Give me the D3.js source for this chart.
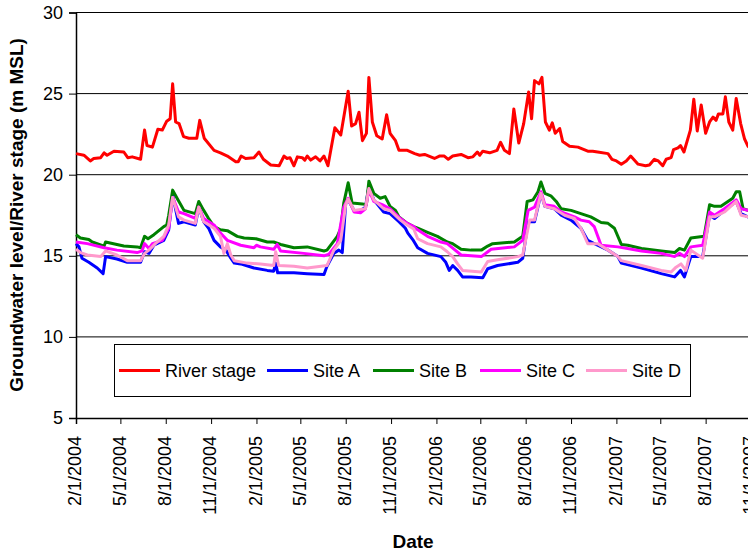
<!DOCTYPE html>
<html>
<head>
<meta charset="utf-8">
<script src="https://cdn.jsdelivr.net/npm/d3@7"></script>
<style>
  body { margin: 0; background: #fff; }
  svg { display: block; font-family: "Liberation Sans", Arial, Helvetica, sans-serif; }
</style>
</head>
<body>
<div id="container"></div>
<script>
// [date, m MSL]
const riverStage = [
  ["2004-02-01", 21.3], ["2004-02-17", 21.2], ["2004-03-01", 20.85], ["2004-03-08", 21.0],
  ["2004-03-22", 21.05], ["2004-03-29", 21.35], ["2004-04-04", 21.2], ["2004-04-18", 21.45],
  ["2004-05-08", 21.4], ["2004-05-16", 21.05], ["2004-05-25", 21.1], ["2004-06-11", 20.95],
  ["2004-06-19", 22.75], ["2004-06-24", 21.8], ["2004-07-05", 21.7], ["2004-07-16", 22.8],
  ["2004-07-25", 22.75], ["2004-08-03", 23.3], ["2004-08-10", 23.45], ["2004-08-15", 25.6],
  ["2004-08-21", 23.25], ["2004-08-28", 23.15], ["2004-09-06", 22.35], ["2004-09-17", 22.25],
  ["2004-10-03", 22.25], ["2004-10-09", 23.35], ["2004-10-18", 22.25], ["2004-11-07", 21.5],
  ["2004-11-20", 21.35], ["2004-12-04", 21.15], ["2004-12-21", 20.8], ["2004-12-26", 20.8],
  ["2005-01-01", 21.15], ["2005-01-10", 21.0], ["2005-01-27", 21.05], ["2005-02-06", 21.4],
  ["2005-02-15", 20.95], ["2005-03-02", 20.6], ["2005-03-19", 20.55], ["2005-03-29", 21.15],
  ["2005-04-04", 21.0], ["2005-04-10", 21.05], ["2005-04-18", 20.55], ["2005-04-25", 21.1],
  ["2005-05-05", 21.05], ["2005-05-10", 20.9], ["2005-05-15", 21.15], ["2005-05-22", 20.9],
  ["2005-06-01", 21.1], ["2005-06-10", 20.85], ["2005-06-18", 21.15], ["2005-06-26", 20.55],
  ["2005-07-10", 22.9], ["2005-07-22", 22.45], ["2005-08-06", 25.15], ["2005-08-13", 23.0],
  ["2005-08-21", 23.15], ["2005-08-28", 23.85], ["2005-09-04", 22.1], ["2005-09-12", 22.55],
  ["2005-09-17", 26.0], ["2005-09-24", 23.25], ["2005-10-03", 22.4], ["2005-10-14", 22.2],
  ["2005-10-23", 23.7], ["2005-10-30", 22.55], ["2005-11-10", 22.1], ["2005-11-17", 21.5],
  ["2005-12-04", 21.5], ["2005-12-19", 21.3], ["2005-12-29", 21.2], ["2006-01-08", 21.25],
  ["2006-01-28", 21.0], ["2006-02-07", 21.15], ["2006-02-17", 21.15], ["2006-02-25", 20.95],
  ["2006-03-06", 21.15], ["2006-03-23", 21.25], ["2006-04-06", 21.05], ["2006-04-16", 21.1],
  ["2006-04-25", 21.4], ["2006-04-30", 21.2], ["2006-05-06", 21.45], ["2006-05-20", 21.35],
  ["2006-06-04", 21.5], ["2006-06-11", 22.0], ["2006-06-19", 21.5], ["2006-06-29", 21.3],
  ["2006-07-08", 24.05], ["2006-07-18", 21.95], ["2006-07-28", 23.15], ["2006-08-07", 25.1],
  ["2006-08-13", 23.45], ["2006-08-19", 25.8], ["2006-08-28", 25.6], ["2006-09-03", 26.0],
  ["2006-09-10", 23.25], ["2006-09-18", 22.75], ["2006-09-24", 23.2], ["2006-09-30", 22.55],
  ["2006-10-09", 22.85], ["2006-10-15", 22.05], ["2006-10-29", 21.75], ["2006-11-15", 21.7],
  ["2006-12-05", 21.45], ["2006-12-15", 21.45], ["2006-12-25", 21.4], ["2007-01-15", 21.3],
  ["2007-01-23", 20.95], ["2007-02-01", 20.85], ["2007-02-11", 20.65], ["2007-02-21", 20.85],
  ["2007-03-02", 21.15], ["2007-03-17", 20.65], ["2007-04-01", 20.55], ["2007-04-09", 20.6],
  ["2007-04-19", 20.95], ["2007-04-27", 20.85], ["2007-05-06", 20.55], ["2007-05-13", 20.95],
  ["2007-05-23", 21.05], ["2007-05-28", 21.55], ["2007-06-06", 21.65], ["2007-06-11", 21.8],
  ["2007-06-18", 21.4], ["2007-07-01", 22.75], ["2007-07-08", 24.65], ["2007-07-15", 22.7],
  ["2007-07-23", 24.3], ["2007-08-01", 22.55], ["2007-08-09", 23.25], ["2007-08-16", 23.55],
  ["2007-08-22", 23.35], ["2007-08-27", 23.75], ["2007-09-05", 23.75], ["2007-09-10", 24.8],
  ["2007-09-17", 23.25], ["2007-09-25", 22.75], ["2007-10-02", 24.7], ["2007-10-11", 23.15],
  ["2007-10-19", 22.2], ["2007-10-26", 21.75], ["2007-11-01", 21.6]
];

const siteA = [
  ["2004-02-01", 15.75], ["2004-02-07", 15.55], ["2004-02-13", 14.85], ["2004-02-27", 14.6],
  ["2004-03-15", 14.25], ["2004-03-27", 13.9], ["2004-04-01", 14.95], ["2004-04-24", 14.8],
  ["2004-05-15", 14.6], ["2004-06-11", 14.6], ["2004-06-19", 15.25], ["2004-06-28", 15.15],
  ["2004-07-08", 15.65], ["2004-07-28", 15.95], ["2004-08-07", 16.6], ["2004-08-15", 18.75],
  ["2004-08-27", 17.0], ["2004-09-07", 17.1], ["2004-09-30", 16.9], ["2004-10-07", 18.0],
  ["2004-10-17", 17.1], ["2004-10-27", 16.7], ["2004-11-07", 15.95], ["2004-11-20", 15.55],
  ["2004-12-01", 15.35], ["2004-12-11", 14.85], ["2004-12-18", 14.55], ["2004-12-31", 14.5],
  ["2005-01-27", 14.25], ["2005-02-23", 14.1], ["2005-03-08", 14.05], ["2005-03-12", 14.55],
  ["2005-03-16", 13.95], ["2005-04-18", 13.95], ["2005-05-15", 13.9], ["2005-06-18", 13.85],
  ["2005-06-24", 14.35], ["2005-07-08", 15.15], ["2005-07-18", 15.35], ["2005-07-25", 15.2],
  ["2005-08-01", 18.25], ["2005-08-06", 18.45], ["2005-08-18", 17.8], ["2005-08-31", 17.8],
  ["2005-09-10", 18.0], ["2005-09-17", 19.25], ["2005-09-27", 18.45], ["2005-10-17", 17.7],
  ["2005-10-30", 17.6], ["2005-11-17", 17.1], ["2005-11-30", 16.7], ["2005-12-05", 16.4],
  ["2005-12-15", 16.0], ["2005-12-25", 15.5], ["2006-01-14", 15.15], ["2006-02-10", 14.95],
  ["2006-02-20", 14.6], ["2006-02-27", 14.1], ["2006-03-06", 14.4], ["2006-03-16", 14.1],
  ["2006-03-26", 13.7], ["2006-04-12", 13.7], ["2006-05-06", 13.65], ["2006-05-16", 14.2],
  ["2006-06-05", 14.4], ["2006-07-16", 14.6], ["2006-07-26", 14.85], ["2006-08-06", 17.1],
  ["2006-08-19", 17.1], ["2006-09-01", 18.85], ["2006-09-09", 18.05], ["2006-09-28", 17.9],
  ["2006-10-12", 17.5], ["2006-11-01", 17.2], ["2006-11-21", 16.7], ["2006-12-05", 15.95],
  ["2006-12-25", 15.65], ["2007-01-15", 15.35], ["2007-02-04", 14.95], ["2007-02-11", 14.55],
  ["2007-03-24", 14.25], ["2007-05-03", 13.9], ["2007-05-30", 13.7], ["2007-06-11", 14.1],
  ["2007-06-19", 13.7], ["2007-07-02", 14.95], ["2007-07-26", 14.95], ["2007-08-09", 17.5],
  ["2007-08-19", 17.3], ["2007-09-08", 17.8], ["2007-10-02", 18.35], ["2007-10-12", 17.6],
  ["2007-10-26", 17.4], ["2007-11-01", 17.3]
];

const siteB = [
  ["2004-02-01", 16.3], ["2004-02-10", 16.1], ["2004-02-27", 16.0], ["2004-03-05", 15.85],
  ["2004-03-29", 15.6], ["2004-04-01", 15.85], ["2004-04-24", 15.7], ["2004-05-08", 15.6],
  ["2004-06-04", 15.55], ["2004-06-11", 15.5], ["2004-06-19", 16.2], ["2004-06-26", 16.05],
  ["2004-07-08", 16.3], ["2004-07-28", 16.8], ["2004-08-03", 16.9], ["2004-08-07", 17.5],
  ["2004-08-15", 19.05], ["2004-08-24", 18.55], ["2004-09-07", 17.8], ["2004-09-30", 17.6],
  ["2004-10-07", 18.35], ["2004-10-17", 17.8], ["2004-10-27", 17.3], ["2004-11-07", 16.8],
  ["2004-11-20", 16.6], ["2004-12-04", 16.55], ["2004-12-24", 16.2], ["2005-01-07", 16.1],
  ["2005-01-31", 16.05], ["2005-02-23", 15.85], ["2005-03-08", 15.85], ["2005-03-22", 15.7],
  ["2005-04-18", 15.5], ["2005-05-15", 15.55], ["2005-06-18", 15.3], ["2005-06-24", 15.35],
  ["2005-07-15", 16.2], ["2005-07-22", 16.7], ["2005-07-28", 18.25], ["2005-08-06", 19.5],
  ["2005-08-14", 18.25], ["2005-09-04", 18.2], ["2005-09-12", 18.15], ["2005-09-17", 19.6],
  ["2005-09-27", 18.85], ["2005-10-10", 18.55], ["2005-10-20", 18.65], ["2005-10-30", 18.05],
  ["2005-11-10", 17.8], ["2005-11-17", 17.4], ["2005-12-04", 17.0], ["2005-12-17", 16.8],
  ["2005-12-25", 16.7], ["2006-01-14", 16.45], ["2006-02-03", 16.2], ["2006-02-23", 15.85],
  ["2006-03-06", 15.75], ["2006-03-23", 15.4], ["2006-04-12", 15.35], ["2006-05-03", 15.35],
  ["2006-05-16", 15.6], ["2006-05-26", 15.75], ["2006-07-09", 15.85], ["2006-07-26", 16.2],
  ["2006-08-04", 18.35], ["2006-08-16", 18.45], ["2006-08-26", 18.95], ["2006-09-01", 19.55],
  ["2006-09-09", 18.85], ["2006-09-21", 18.7], ["2006-10-02", 18.35], ["2006-10-12", 17.9],
  ["2006-11-01", 17.8], ["2006-11-21", 17.6], ["2006-12-11", 17.4], ["2007-01-01", 17.05],
  ["2007-01-15", 17.0], ["2007-01-28", 16.7], ["2007-02-11", 15.7], ["2007-02-24", 15.65],
  ["2007-03-24", 15.45], ["2007-05-03", 15.3], ["2007-05-30", 15.2], ["2007-06-09", 15.45],
  ["2007-06-19", 15.35], ["2007-07-02", 16.1], ["2007-07-29", 16.2], ["2007-08-09", 18.15],
  ["2007-08-19", 18.05], ["2007-09-01", 18.05], ["2007-09-25", 18.55], ["2007-10-02", 18.95],
  ["2007-10-09", 18.95], ["2007-10-16", 17.9], ["2007-10-26", 17.8], ["2007-11-01", 17.7]
];

const siteC = [
  ["2004-02-01", 15.85], ["2004-02-24", 15.75], ["2004-03-29", 15.5], ["2004-04-24", 15.35],
  ["2004-06-04", 15.2], ["2004-06-14", 15.3], ["2004-06-19", 15.75], ["2004-06-28", 15.45],
  ["2004-07-05", 15.75], ["2004-07-25", 15.95], ["2004-08-07", 16.7], ["2004-08-15", 18.6],
  ["2004-08-27", 17.7], ["2004-09-07", 17.6], ["2004-09-30", 17.3], ["2004-10-07", 18.0],
  ["2004-10-17", 17.3], ["2004-11-07", 16.9], ["2004-11-20", 16.4], ["2004-12-04", 15.95],
  ["2004-12-31", 15.65], ["2005-01-27", 15.5], ["2005-02-01", 15.65], ["2005-02-09", 15.55],
  ["2005-03-08", 15.4], ["2005-03-15", 15.7], ["2005-03-22", 15.3], ["2005-05-08", 15.15],
  ["2005-06-18", 15.0], ["2005-06-28", 15.1], ["2005-07-15", 15.75], ["2005-07-28", 18.0],
  ["2005-08-06", 18.55], ["2005-08-18", 17.7], ["2005-08-31", 17.65], ["2005-09-10", 17.9],
  ["2005-09-17", 19.05], ["2005-09-27", 18.35], ["2005-10-14", 18.15], ["2005-10-30", 17.9],
  ["2005-11-20", 17.3], ["2005-12-04", 17.0], ["2005-12-17", 16.8], ["2005-12-25", 16.6],
  ["2006-01-14", 16.2], ["2006-02-10", 15.85], ["2006-02-23", 15.75], ["2006-03-03", 15.55],
  ["2006-03-23", 15.05], ["2006-05-03", 14.95], ["2006-05-23", 15.4], ["2006-07-09", 15.55],
  ["2006-07-26", 15.95], ["2006-08-06", 17.8], ["2006-08-19", 18.0], ["2006-09-01", 18.95],
  ["2006-09-09", 18.15], ["2006-09-28", 18.05], ["2006-10-12", 17.7], ["2006-11-08", 17.4],
  ["2006-11-21", 17.2], ["2006-12-08", 17.1], ["2006-12-18", 16.8], ["2007-01-01", 15.65],
  ["2007-02-04", 15.55], ["2007-03-24", 15.3], ["2007-05-03", 15.15], ["2007-05-30", 14.95],
  ["2007-06-09", 15.15], ["2007-06-19", 14.95], ["2007-07-02", 15.55], ["2007-07-26", 15.65],
  ["2007-08-09", 17.7], ["2007-08-19", 17.5], ["2007-09-08", 17.9], ["2007-10-02", 18.45],
  ["2007-10-12", 17.9], ["2007-10-26", 17.8], ["2007-11-01", 17.7]
];

const siteD = [
  ["2004-02-01", 15.4], ["2004-02-10", 15.2], ["2004-02-24", 15.05], ["2004-03-22", 14.95],
  ["2004-04-01", 15.3], ["2004-04-24", 15.05], ["2004-05-15", 14.7], ["2004-06-11", 14.7],
  ["2004-06-19", 15.15], ["2004-06-28", 15.35], ["2004-07-11", 15.75], ["2004-07-28", 16.2],
  ["2004-08-07", 16.9], ["2004-08-15", 18.6], ["2004-08-27", 17.4], ["2004-09-07", 17.2],
  ["2004-09-30", 17.0], ["2004-10-07", 18.0], ["2004-10-17", 17.1], ["2004-11-07", 16.7],
  ["2004-11-20", 16.2], ["2004-11-27", 15.15], ["2004-12-04", 15.75], ["2004-12-11", 15.05],
  ["2004-12-18", 14.7], ["2005-01-13", 14.55], ["2005-02-09", 14.5], ["2005-03-08", 14.4],
  ["2005-03-12", 15.25], ["2005-03-18", 14.4], ["2005-04-18", 14.35], ["2005-05-15", 14.25],
  ["2005-06-24", 14.4], ["2005-07-08", 15.35], ["2005-07-22", 15.95], ["2005-08-01", 18.15],
  ["2005-08-06", 18.5], ["2005-08-18", 17.8], ["2005-09-10", 17.9], ["2005-09-17", 19.15],
  ["2005-09-27", 18.45], ["2005-10-17", 17.9], ["2005-10-30", 17.8], ["2005-11-20", 17.2],
  ["2005-12-04", 16.9], ["2005-12-17", 16.65], ["2005-12-25", 16.05], ["2006-01-14", 15.75],
  ["2006-02-10", 15.55], ["2006-02-23", 15.25], ["2006-03-06", 14.95], ["2006-03-16", 14.5],
  ["2006-03-26", 14.1], ["2006-05-03", 14.0], ["2006-05-16", 14.65], ["2006-06-05", 14.75],
  ["2006-07-16", 14.95], ["2006-07-26", 15.05], ["2006-08-09", 17.2], ["2006-08-19", 17.2],
  ["2006-09-01", 18.85], ["2006-09-09", 18.05], ["2006-09-28", 17.9], ["2006-10-19", 17.5],
  ["2006-11-08", 17.3], ["2006-11-21", 16.7], ["2006-12-05", 15.75], ["2006-12-25", 15.75],
  ["2007-01-15", 15.35], ["2007-02-04", 14.95], ["2007-02-11", 14.7], ["2007-03-24", 14.4],
  ["2007-05-03", 14.1], ["2007-05-23", 14.0], ["2007-06-02", 14.3], ["2007-06-12", 14.5],
  ["2007-06-22", 14.1], ["2007-07-02", 15.35], ["2007-07-26", 14.85], ["2007-08-09", 17.4],
  ["2007-08-19", 17.4], ["2007-09-08", 17.7], ["2007-10-02", 18.35], ["2007-10-12", 17.5],
  ["2007-10-26", 17.4], ["2007-11-01", 17.35]
];

const seriesNames = ["River stage", "Site A", "Site B", "Site C", "Site D"];
const seriesColors = ["#ff0000", "#0000ff", "#008000", "#ff00ff", "#ff99cc"];
const yTicks = [5, 10, 15, 20, 25, 30];
const gridValues = [10, 15, 20, 25, 30];
const xTicks = [
  "2004-02-01", "2004-05-01", "2004-08-01", "2004-11-01",
  "2005-02-01", "2005-05-01", "2005-08-01", "2005-11-01",
  "2006-02-01", "2006-05-01", "2006-08-01", "2006-11-01",
  "2007-02-01", "2007-05-01", "2007-08-01", "2007-11-01"
];

const width = 748, height = 555;
const plotLeft = 76, plotRight = 751, plotTop = 12.5, plotBottom = 418;
const parse = d3.utcParse("%Y-%m-%d");
const fmt = d3.utcFormat("%-m/%-d/%Y");

const svg = d3.select("#container").append("svg")
  .attr("width", width)
  .attr("height", height);

const x = d3.scaleUtc()
  .domain([parse("2004-02-01"), parse("2007-11-01")])
  .range([plotLeft, plotRight]);
const y = d3.scaleLinear().domain([5, 30]).range([plotBottom, plotTop]);

// gridlines
svg.append("g")
  .selectAll("line")
  .data(gridValues)
  .join("line")
  .attr("x1", plotLeft)
  .attr("x2", plotRight)
  .attr("y1", d => y(d))
  .attr("y2", d => y(d))
  .attr("stroke", "#000")
  .attr("stroke-width", 1);

// y axis
const yAxis = svg.append("g")
  .attr("transform", `translate(${plotLeft},0)`)
  .call(d3.axisLeft(y).tickValues(yTicks).tickSize(7).tickPadding(6));
yAxis.select(".domain").attr("stroke", "#000").attr("stroke-width", 1.5);
yAxis.selectAll(".tick line").attr("stroke", "#000");
yAxis.selectAll("text")
  .attr("font-size", 18)
  .attr("font-family", "Liberation Sans, Arial, sans-serif")
  .attr("fill", "#000");

// x axis
const xAxis = svg.append("g")
  .attr("transform", `translate(0,${plotBottom})`)
  .call(d3.axisBottom(x).tickValues(xTicks.map(parse)).tickFormat(fmt).tickSize(6).tickPadding(0));
xAxis.select(".domain").attr("stroke", "#000").attr("stroke-width", 1.5);
xAxis.selectAll(".tick line").attr("stroke", "#000");
xAxis.selectAll("text")
  .attr("font-size", 18)
  .attr("font-family", "Liberation Sans, Arial, sans-serif")
  .attr("fill", "#000")
  .attr("text-anchor", "end")
  .attr("transform", "translate(-1.5,18) rotate(-90)")
  .attr("x", 0)
  .attr("y", 0)
  .attr("dy", "0.35em");

// series lines
const line = d3.line()
  .x(d => x(parse(d[0])))
  .y(d => y(d[1]));

const allSeries = [riverStage, siteA, siteB, siteC, siteD];
allSeries.forEach((s, i) => {
  svg.append("path")
    .datum(s)
    .attr("d", line)
    .attr("fill", "none")
    .attr("stroke", seriesColors[i])
    .attr("stroke-width", 3)
    .attr("stroke-linejoin", "round");
});

// legend
const legendX = [119, 267, 373, 480, 586];
const legend = svg.append("g");
legend.append("rect")
  .attr("x", 114.5)
  .attr("y", 344.5)
  .attr("width", 576)
  .attr("height", 52)
  .attr("fill", "#fff")
  .attr("stroke", "#000")
  .attr("stroke-width", 1);
seriesNames.forEach((name, i) => {
  legend.append("line")
    .attr("x1", legendX[i])
    .attr("x2", legendX[i] + 41)
    .attr("y1", 370.5)
    .attr("y2", 370.5)
    .attr("stroke", seriesColors[i])
    .attr("stroke-width", 3);
  legend.append("text")
    .attr("x", legendX[i] + 46)
    .attr("y", 377)
    .attr("font-size", 18)
    .attr("fill", "#000")
    .text(name);
});

// axis titles
svg.append("text")
  .attr("transform", "translate(23,215) rotate(-90)")
  .attr("text-anchor", "middle")
  .attr("font-size", 19)
  .attr("font-weight", "bold")
  .text("Groundwater level/River stage (m MSL)");

svg.append("text")
  .attr("x", 413)
  .attr("y", 548)
  .attr("text-anchor", "middle")
  .attr("font-size", 19)
  .attr("font-weight", "bold")
  .text("Date");
</script>
</body>
</html>
